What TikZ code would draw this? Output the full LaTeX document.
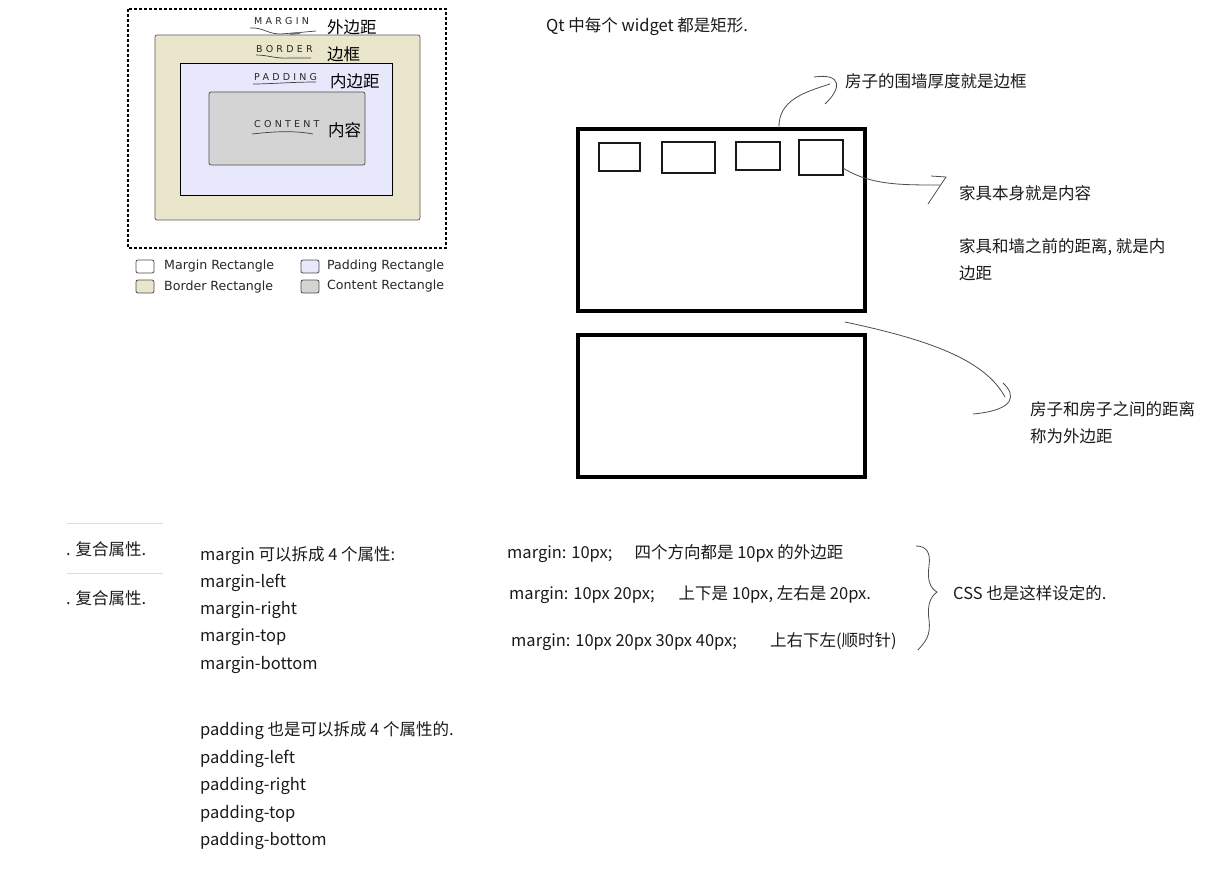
\documentclass[tikz,border=0pt]{standalone}
\usepackage{fontspec}
\setmainfont{Noto Sans CJK SC}
\newfontfamily\legendfont{DejaVu Sans}
\newfontfamily\capsfont[LetterSpace=34]{DejaVu Sans}
\definecolor{beige}{HTML}{E9E6CB}
\definecolor{lav}{HTML}{E8E8FC}
\definecolor{cont}{HTML}{D4D4D4}
\definecolor{rule}{HTML}{DDDDE2}
\definecolor{ink}{HTML}{1A1A1A}
\begin{document}
\begin{tikzpicture}[x=1pt,y=-1pt,
  txt/.style={anchor=west,inner sep=0pt,yshift=-1.5pt,text=ink,font=\fontsize{16.5}{18}\selectfont},
  cjk/.style={anchor=west,inner sep=0pt,text=black,font=\fontsize{16.5}{18}\selectfont},
  caps/.style={anchor=west,inner sep=0pt,text=black!85,font=\capsfont\fontsize{9.5}{10}\selectfont},
  legtxt/.style={anchor=west,inner sep=0pt,text=black!85,font=\legendfont\fontsize{12.6}{14}\selectfont},
  legbox/.style={draw=black!70,rounded corners=2pt,minimum width=18pt,minimum height=13pt,inner sep=0pt,line width=0.8pt},
  house/.style={draw=black,line width=3.5pt,inner sep=0pt},
  furn/.style={draw=black!90,line width=1.6pt,inner sep=0pt},
  pen/.style={draw=black!70,line width=0.8pt},
  hand/.style={draw=black!75,line width=0.7pt}]
\useasboundingbox (0,0) rectangle (1215,873);

% ---------- box model ----------
\draw[line width=1.3pt,dash pattern=on 3pt off 2pt] (128,9) rectangle (446,248);
\node[draw=black!65,fill=beige,rounded corners=2pt,minimum width=265pt,minimum height=185pt,inner sep=0pt,line width=0.7pt] (bord) at (287.5,127.5) {};
\node[draw=black,fill=lav,minimum width=212pt,minimum height=132pt,inner sep=0pt,line width=0.6pt] (padd) at (286,129) {};
\node[draw=black!70,fill=cont,rounded corners=2pt,minimum width=156pt,minimum height=73pt,inner sep=0pt,line width=0.7pt] (cnt) at (287,128.5) {};

\node[caps] (lm) at (254,21) {MARGIN};
\node[cjk] (lmz) at (327,27) {外边距};
\node[caps] (lb) at (256,49) {BORDER};
\node[cjk] (lbz) at (327,54) {边框};
\node[caps] (lp) at (254,77) {PADDING};
\node[cjk] (lpz) at (330,81) {内边距};
\node[caps] (lc) at (254,124) {CONTENT};
\node[cjk] (lcz) at (328,130) {内容};

\draw[hand] (250,28) .. controls (262,27) and (268,34) .. (280,34) .. controls (295,33) and (305,32) .. (316,31);
\draw[black!55,line width=2pt] (290,34) -- (300,33);
\draw[hand] (256,55) .. controls (268,55) and (276,59) .. (290,58) -- (311,58);
\draw[hand] (253,84) .. controls (270,84) and (292,82) .. (316,82);
\draw[hand] (252,134) .. controls (270,132) and (292,130) .. (313,134);

% legend
\node[legbox,fill=white] (k1) at (145,266.5) {};
\node[legtxt] (t1) at (164,266.5) {Margin Rectangle};
\node[legbox,fill=beige] (k2) at (145,286.5) {};
\node[legtxt] (t2) at (164,287) {Border Rectangle};
\node[legbox,fill=lav] (k3) at (310,266.5) {};
\node[legtxt] (t3) at (327,266) {Padding Rectangle};
\node[legbox,fill=cont] (k4) at (310,286.5) {};
\node[legtxt] (t4) at (327,286) {Content Rectangle};

% ---------- houses ----------
\node[txt] (qt) at (546,25) {Qt 中每个 widget 都是矩形.};
\node[house,minimum width=287pt,minimum height=182pt] (h1) at (721.5,220) {};
\node[house,minimum width=287pt,minimum height=142pt] (h2) at (721.5,406) {};
\node[furn,minimum width=41pt,minimum height=28pt] (f1) at (619.5,157) {};
\node[furn,minimum width=53pt,minimum height=31pt] (f2) at (688.5,157.5) {};
\node[furn,minimum width=44pt,minimum height=28pt] (f3) at (758,156) {};
\node[furn,minimum width=44pt,minimum height=35pt] (f4) at (821,157.5) {};

\node[txt] (n1) at (845,80) {房子的围墙厚度就是边框};
\node[txt] (n2) at (959,192) {家具本身就是内容};
\node[txt,align=left,font=\fontsize{16.5}{27}\selectfont,anchor=north west] (n3) at (959,237) {家具和墙之前的距离, 就是内\\边距};
\node[txt,align=left,font=\fontsize{16.5}{27}\selectfont,anchor=north west] (n4) at (1030,400) {房子和房子之间的距离\\称为外边距};

\coordinate (c1) at (779,128);
\coordinate (c2) at (843,168);
\coordinate (c3) at (845,322);
\draw[pen] (c1) .. controls (778,100) and (805,92) .. (830,84);
\draw[pen] (814,77) .. controls (842,73) and (842,88) .. (825,104);
\draw[pen] (c2) .. controls (870,185) and (900,185) .. (940,185);
\draw[pen] (931,176) -- (946,177) -- (928,204);
\draw[pen] (c3) .. controls (930,340) and (985,360) .. (1005,397);
\draw[pen] (1003,383) .. controls (1016,395) and (1016,410) .. (973,414);

% ---------- bottom text ----------
\draw[rule,line width=1pt] (67,523) -- (163,523);
\draw[rule,line width=1pt] (67,573) -- (163,573);
\node[txt] (s1) at (66,548) {. 复合属性.};
\node[txt] (s2) at (66,597) {. 复合属性.};

\node[txt] (m0) at (200,554) {margin 可以拆成 4 个属性:};
\node[txt] (m1) at (200,581) {margin-left};
\node[txt] (m2) at (200,608.5) {margin-right};
\node[txt] (m3) at (200,636) {margin-top};
\node[txt] (m4) at (200,663.5) {margin-bottom};

\node[txt] (p0) at (200,729) {padding 也是可以拆成 4 个属性的.};
\node[txt] (p1) at (200,757) {padding-left};
\node[txt] (p2) at (200,784.5) {padding-right};
\node[txt] (p3) at (200,812) {padding-top};
\node[txt] (p4) at (200,839.5) {padding-bottom};

\node[txt] (r1) at (507,552) {margin: 10px;\hspace{22pt}四个方向都是 10px 的外边距};
\node[txt] (r2) at (509,593) {margin: 10px 20px;\hspace{24pt}上下是 10px, 左右是 20px.};
\node[txt] (r3) at (511,640) {margin: 10px 20px 30px 40px;\hspace{33pt}上右下左(顺时针)};

\draw[pen] (916,546) .. controls (926,546) and (931,552) .. (929,566) .. controls (927,580) and (930,588) .. (937,592) .. controls (930,597) and (927,606) .. (929,620) .. controls (931,636) and (925,642) .. (918,650);
\node[txt] (css) at (953,592) {CSS 也是这样设定的.};
\end{tikzpicture}
\end{document}
